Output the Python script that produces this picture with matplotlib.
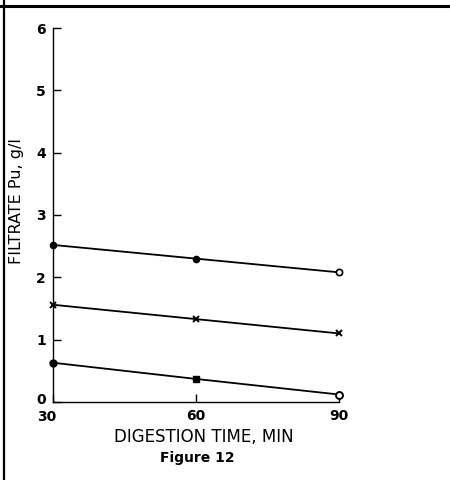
import matplotlib
matplotlib.use("Agg")
import matplotlib.pyplot as plt
from matplotlib.lines import Line2D
from matplotlib.transforms import ScaledTranslation

plt.rcParams['font.family'] = ['DejaVu Sans']

time_min = [30, 60, 90]
series_top = [2.52, 2.30, 2.08]
series_mid = [1.56, 1.33, 1.10]
series_low = [0.63, 0.37, 0.12]
x_ticks = [30, 60, 90]
y_ticks = [0, 1, 2, 3, 4, 5, 6]

fig = plt.figure(figsize=(4.5, 4.8), dpi=100)
ax = fig.add_axes([53/450, 1-402/480, (339-53)/450, (402-28)/480])

kw = dict(clip_on=False, zorder=3)
ax.plot(time_min, series_top, color='black', lw=1.3, **kw)
ax.plot(time_min[:2], series_top[:2], 'o', color='black', ms=4.5, **kw)
ax.plot(time_min[2:], series_top[2:], 'o', mfc='white', mec='black', mew=1.2, ms=4.5, **kw)

ax.plot(time_min, series_mid, color='black', lw=1.3, marker='x', ms=4.5, mew=1.4, **kw)

ax.plot(time_min, series_low, color='black', lw=1.3, **kw)
ax.plot(time_min[:1], series_low[:1], 'o', color='black', ms=5, **kw)
ax.plot(time_min[1:2], series_low[1:2], 's', color='black', ms=4, **kw)
ax.plot(time_min[2:], series_low[2:], 'o', mfc='white', mec='black', mew=1.4, ms=5, **kw)

ax.set_xlim(30, 90)
ax.set_ylim(0, 6)
ax.set_xticks(x_ticks)
ax.set_yticks(y_ticks)
ax.set_xticklabels([str(v) for v in x_ticks], fontsize=10, fontweight='bold')
ax.set_yticklabels([str(v) for v in y_ticks], fontsize=10, fontweight='bold')
ax.tick_params(axis='both', direction='in', length=6, width=1, color='black')
ax.tick_params(axis='x', pad=5)
ax.tick_params(axis='y', pad=5)
# corner labels: nudge "30" left/down and "0" up so they sit apart
first = ax.get_xticklabels()[0]
first.set_transform(first.get_transform() + ScaledTranslation(-6/100, -1/100, fig.dpi_scale_trans))
zero = ax.get_yticklabels()[0]
zero.set_transform(zero.get_transform() + ScaledTranslation(0, 3/100, fig.dpi_scale_trans))
for s in ['top', 'right']:
    ax.spines[s].set_visible(False)
for s in ['left', 'bottom']:
    ax.spines[s].set_linewidth(1.0)
ax.patch.set_alpha(0)

fig.text(17/450, 1-201/480, 'FILTRATE Pu, g/l', rotation=90, ha='center', va='center',
         fontsize=11.5)
fig.text(204/450, 1-437/480, 'DIGESTION TIME, MIN', ha='center', va='center',
         fontsize=12)
fig.text(197/450, 1-458/480, 'Figure 12', ha='center', va='center',
         fontsize=10, fontweight='bold')

# page frame lines
fig.add_artist(Line2D([0, 1], [1-6/480, 1-6/480], transform=fig.transFigure,
                      color='black', lw=2.2))
fig.add_artist(Line2D([4/450, 4/450], [0, 1], transform=fig.transFigure,
                      color='black', lw=1.6))

fig.savefig('out.png', dpi=100)
